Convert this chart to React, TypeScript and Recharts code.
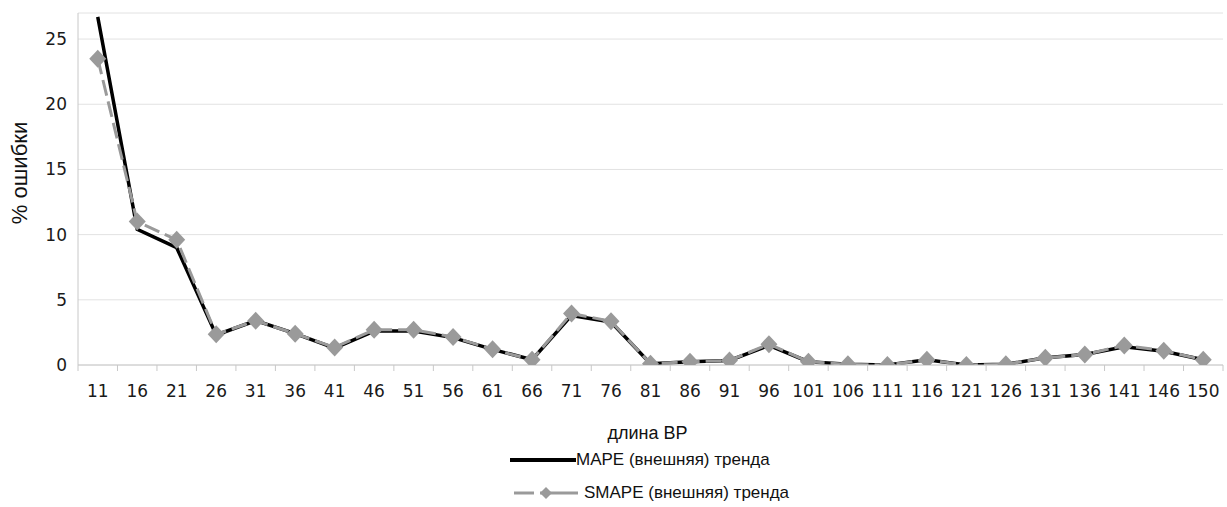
import React from 'react';
import { LineChart, Line, XAxis, YAxis, CartesianGrid, Legend } from 'recharts';

const categories = ['11','16','21','26','31','36','41','46','51','56','61','66','71','76','81','86','91','96','101','106','111','116','121','126','131','136','141','146','150'];
const mapeValues = [26.7, 10.4, 9.0, 2.3, 3.4, 2.4, 1.3, 2.6, 2.6, 2.1, 1.2, 0.4, 3.8, 3.3, 0.1, 0.25, 0.35, 1.5, 0.25, 0.05, 0.0, 0.4, 0.0, 0.05, 0.55, 0.8, 1.4, 1.05, 0.4];
const smapeValues = [23.5, 11.0, 9.6, 2.35, 3.4, 2.4, 1.35, 2.7, 2.7, 2.15, 1.2, 0.4, 3.95, 3.35, 0.1, 0.25, 0.35, 1.6, 0.25, 0.05, 0.0, 0.4, 0.0, 0.05, 0.55, 0.8, 1.5, 1.1, 0.4];
const yTicks = [0, 5, 10, 15, 20, 25];
const seriesNames = { mape: 'MAPE (внешняя) тренда', smape: 'SMAPE (внешняя) тренда' };
const xAxisTitle = 'длина ВР';
const yAxisTitle = '% ошибки';

const data = categories.map((c, i) => ({ len: c, mape: mapeValues[i], smape: smapeValues[i] }));

const TICK_FONT = '"DejaVu Sans", sans-serif';
const TEXT_FONT = '"Liberation Sans", Arial, sans-serif';
const GRAY = '#9a9a9a';
const HALF_STEP = 1145 / 29 / 2;

const XTick = (props: any) => {
  const { x, y, payload, index } = props;
  const off = HALF_STEP;
  return (
    <g>
      <line x1={x + off} y1={y} x2={x + off} y2={y + 6} stroke="#c8c8c8" strokeWidth={1} />
      {index === 0 ? <line x1={x - off} y1={y} x2={x - off} y2={y + 6} stroke="#c8c8c8" strokeWidth={1} /> : null}
      <text x={x} y={y + 32} textAnchor="middle" fontFamily={TICK_FONT} fontSize={17} fill="#1a1a1a">
        {payload.value}
      </text>
    </g>
  );
};

const Diamond = (props: any) => {
  const { cx, cy } = props;
  if (cx == null || cy == null) return null;
  return <polygon points={`${cx},${cy - 9} ${cx + 8.5},${cy} ${cx},${cy + 9} ${cx - 8.5},${cy}`} fill={GRAY} />;
};

const renderLegend = (props: any) => {
  const payload = props.payload || [];
  const mape = payload.find((p: any) => p.dataKey === 'mape');
  const smape = payload.find((p: any) => p.dataKey === 'smape');
  return (
    <div style={{ position: 'relative', width: 1227, height: 70, fontFamily: TEXT_FONT, fontSize: 17, color: '#111' }}>
      {mape ? (
        <div style={{ position: 'absolute', left: 508, top: 12, display: 'flex', alignItems: 'center', whiteSpace: 'nowrap' }}>
          <svg width={68} height={22}><line x1={2} y1={11} x2={68} y2={11} stroke="#000" strokeWidth={4} /></svg>
          <span>{mape.value}</span>
        </div>
      ) : null}
      {smape ? (
        <div style={{ position: 'absolute', left: 512, top: 45, display: 'flex', alignItems: 'center', whiteSpace: 'nowrap' }}>
          <svg width={72} height={22}>
            <line x1={2} y1={11} x2={22} y2={11} stroke={GRAY} strokeWidth={3} />
            <line x1={28} y1={11} x2={66} y2={11} stroke={GRAY} strokeWidth={3} />
            <polygon points="34,5 40,11 34,17 28,11" fill={GRAY} />
          </svg>
          <span>{smape.value}</span>
        </div>
      ) : null}
    </div>
  );
};

const XLabel = (props: any) => {
  const vb = props.viewBox || { x: 0, y: 0, width: 0 };
  return (
    <text x={vb.x + vb.width / 2 - 3} y={vb.y + 74} textAnchor="middle" fontFamily={TEXT_FONT} fontSize={18} fill="#111">
      {xAxisTitle}
    </text>
  );
};

const YLabel = (props: any) => {
  const vb = props.viewBox || { x: 0, y: 0, height: 0 };
  const cx = 27;
  const cy = vb.y + vb.height / 2 - 16;
  return (
    <text x={cx} y={cy} textAnchor="middle" fontFamily={TEXT_FONT} fontSize={22} fill="#111" transform={`rotate(-90, ${cx}, ${cy})`}>
      {yAxisTitle}
    </text>
  );
};

export default function App() {
  return (
    <div style={{ position: 'absolute', left: 0, top: 0, width: 1227, height: 507, background: '#fff' }}>
      <LineChart width={1227} height={507} data={data} margin={{ top: 13, right: 4, left: 0, bottom: 0 }}>
        <CartesianGrid vertical={false} stroke="#e2e2e2" />
        <XAxis
          dataKey="len"
          interval={0}
          height={72}
          padding={{ left: HALF_STEP, right: HALF_STEP }}
          tickLine={false}
          tickSize={0}
          tickMargin={0}
          axisLine={{ stroke: '#c8c8c8' }}
          tick={<XTick />}
          label={<XLabel />}
        />
        <YAxis
          width={78}
          domain={[0, 27]}
          ticks={yTicks}
          allowDataOverflow
          tickLine={false}
          tickSize={0}
          tickMargin={11}
          axisLine={{ stroke: '#c8c8c8' }}
          tick={{ fontFamily: TICK_FONT, fontSize: 17, fill: '#1a1a1a' }}
          label={<YLabel />}
        />
        <Legend layout="vertical" align="center" verticalAlign="bottom" content={renderLegend} wrapperStyle={{ left: 0, bottom: 0, width: 1227 }} />
        <Line type="linear" dataKey="mape" name={seriesNames.mape} stroke="#000" strokeWidth={3.5} dot={false} isAnimationActive={false} />
        <Line type="linear" dataKey="smape" name={seriesNames.smape} stroke={GRAY} strokeWidth={3} strokeDasharray="16 6" dot={<Diamond />} activeDot={false} isAnimationActive={false} />
      </LineChart>
    </div>
  );
}
